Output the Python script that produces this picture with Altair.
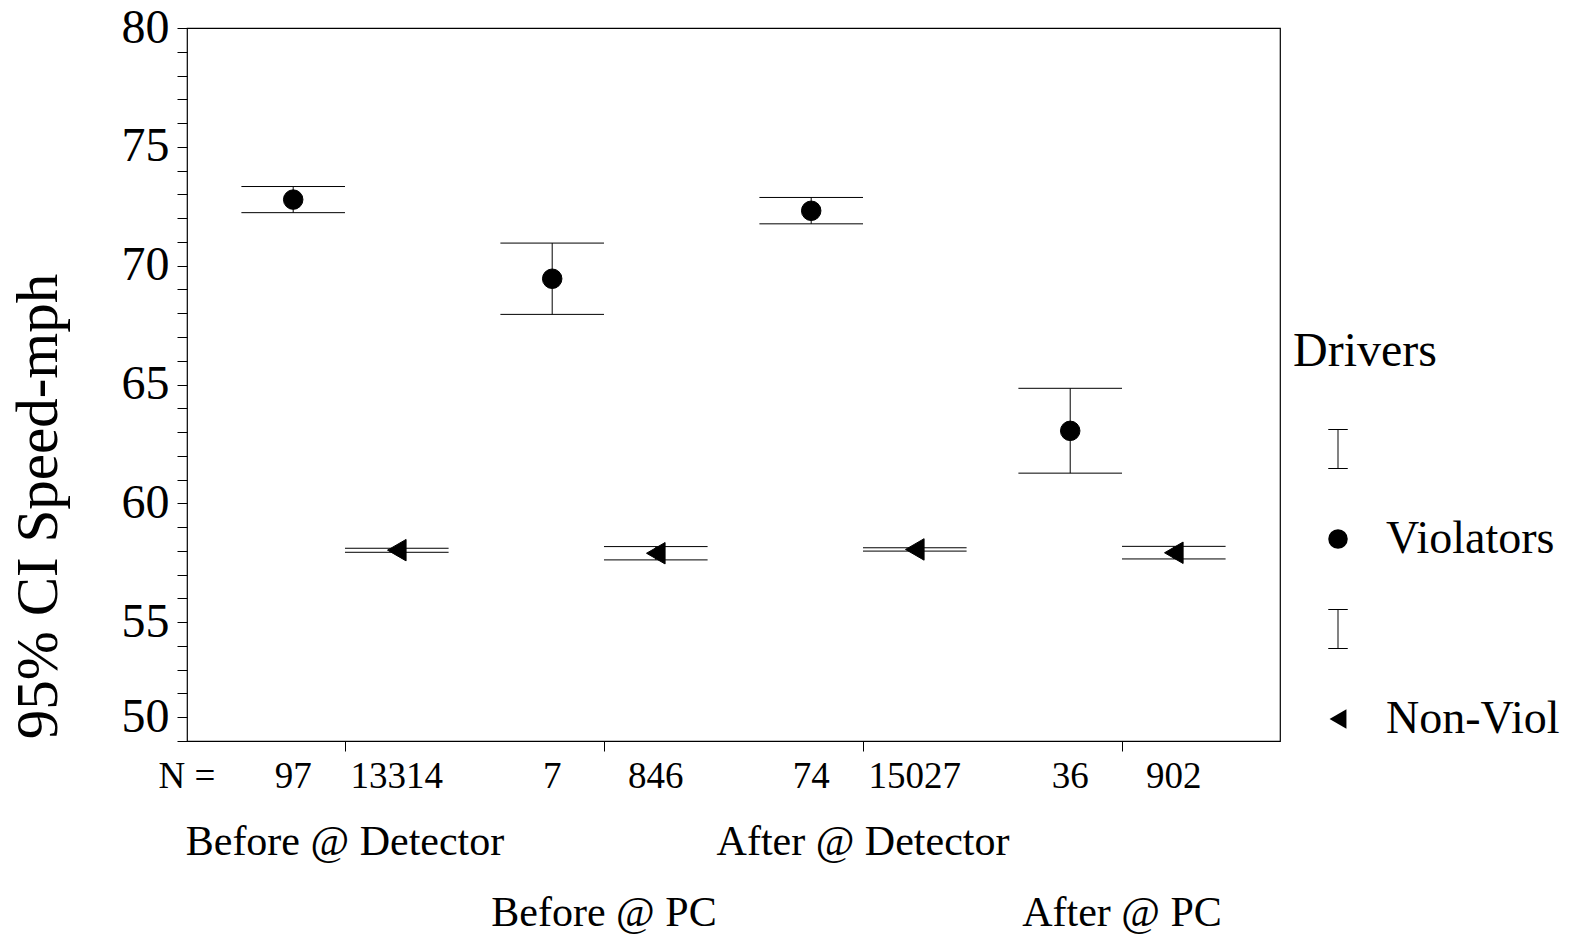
import altair as alt
import pandas as pd

groups = ["Before @ Detector", "Before @ PC", "After @ Detector", "After @ PC"]
viol_mean = [72.78, 69.45, 72.31, 63.05]
viol_low = [72.23, 67.95, 71.76, 61.27]
viol_high = [73.33, 70.95, 72.87, 64.84]
viol_n = ["97", "7", "74", "36"]
non_mean = [58.03, 57.90, 58.06, 57.92]
non_low = [57.94, 57.62, 57.99, 57.66]
non_high = [58.11, 58.18, 58.13, 58.19]
non_n = ["13314", "846", "15027", "902"]

rows = []
for i, g in enumerate(groups):
    rows.append(dict(group=g, gi=i + 1, Drivers="Violators", side=-1,
                     mean=viol_mean[i], low=viol_low[i], high=viol_high[i], n=viol_n[i]))
    rows.append(dict(group=g, gi=i + 1, Drivers="Non-Viol", side=1,
                     mean=non_mean[i], low=non_low[i], high=non_high[i], n=non_n[i]))
df = pd.DataFrame(rows)
gdf = pd.DataFrame({"group": groups, "gi": [1, 2, 3, 4]})

W, H = 1093, 713
FONT = "Liberation Serif"

xs = alt.Scale(domain=[0.39, 4.61], nice=False, zero=False)
ys = alt.Scale(domain=[50, 80], nice=False, zero=False)
xaxis = alt.Axis(values=[1, 2, 3, 4], labels=False, tickSize=10, tickColor="black",
                 tickWidth=1, domain=False, grid=False, title=None)
yaxis = alt.Axis(values=list(range(50, 81)),
                 labelExpr="datum.value == 51 ? '50' : ((datum.value % 5 == 0 && datum.value > 50) ? datum.label : '')",
                 labelOverlap=False, labelFlush=False, labelBound=False,
                 tickSize=10, tickColor="black", tickWidth=1,
                 labelFont=FONT, labelFontSize=48, labelColor="black", labelPadding=8,
                 domain=False, grid=False,
                 title="95% CI Speed-mph", titleFont=FONT, titleFontSize=59,
                 titleFontWeight="normal", titleColor="black", titleAngle=270,
                 titleX=-131, titleY=478, titleBaseline="alphabetic", titleAlign="center")


def X(f):
    return alt.X(f, type="quantitative", scale=xs, axis=xaxis)


def Y(f):
    return alt.Y(f, type="quantitative", scale=ys, axis=yaxis)


base = alt.Chart(df).transform_calculate(
    px="datum.gi + datum.side * 0.2",
    xl="datum.gi + datum.side * 0.2 - 0.2",
    xr="datum.gi + datum.side * 0.2 + 0.2",
)

stems = base.mark_rule(color="black", strokeWidth=1).encode(
    x=X("px"), y=Y("low"), y2="high:Q")
cap_lo = base.mark_rule(color="black", strokeWidth=1).encode(
    x=X("xl"), x2="xr:Q", y=Y("low"))
cap_hi = base.mark_rule(color="black", strokeWidth=1).encode(
    x=X("xl"), x2="xr:Q", y=Y("high"))

# filled I-beam outline (legend symbol for the CI bars)
ibeam = ("M-1,-2.06L1,-2.06L1,-1.96L0.05,-1.96L0.05,1.96L1,1.96L1,2.06"
         "L-1,2.06L-1,1.96L-0.05,1.96L-0.05,-1.96L-1,-1.96Z")
shape_enc = alt.Shape(
    "Drivers:N",
    scale=alt.Scale(domain=["ci1", "Violators", "ci2", "Non-Viol"],
                    range=[ibeam, "circle", ibeam, "triangle-left"]),
    legend=alt.Legend(
        title="Drivers", orient="none", legendX=1106, legendY=300,
        titleFont=FONT, titleFontSize=48, titleFontWeight="normal",
        titleColor="black", titlePadding=50,
        labelFont=FONT, labelFontSize=46, labelColor="black",
        labelLimit=400,
        labelExpr="(datum.label == 'ci1' || datum.label == 'ci2') ? '' : datum.label",
        symbolSize=380, symbolFillColor="black", symbolStrokeColor="black",
        symbolStrokeWidth=1, symbolOpacity=1, rowPadding=44, padding=0,
        symbolOffset=22, labelOffset=25))

pt_style = dict(filled=False, color="black", fill="black", stroke="black",
                strokeWidth=1, opacity=1, fillOpacity=1)
pts_v = base.transform_filter("datum.Drivers == 'Violators'").mark_point(
    size=380, **pt_style).encode(x=X("px"), y=Y("mean"), shape=shape_enc)
pts_n = base.transform_filter("datum.Drivers == 'Non-Viol'").mark_point(
    size=460, **pt_style).encode(x=X("px"), y=Y("mean"), shape=shape_enc)

nlab = base.mark_text(font=FONT, fontSize=37, color="black", baseline="middle",
                      align="center").encode(x=X("px"), y=alt.value(H + 36), text="n:N")
nhead = alt.Chart(pd.DataFrame({"t": ["N ="]})).mark_text(
    font=FONT, fontSize=37, color="black", baseline="middle", align="center").encode(
    x=alt.value(0), y=alt.value(H + 36), text="t:N")
g1 = alt.Chart(gdf).transform_filter("datum.gi % 2 == 1").mark_text(
    font=FONT, fontSize=42, color="black", baseline="middle", align="center").encode(
    x=X("gi"), y=alt.value(H + 101), text="group:N")
g2 = alt.Chart(gdf).transform_filter("datum.gi % 2 == 0").mark_text(
    font=FONT, fontSize=42, color="black", baseline="middle", align="center").encode(
    x=X("gi"), y=alt.value(H + 172), text="group:N")

chart = alt.layer(stems, cap_lo, cap_hi, pts_v, pts_n, nlab, nhead, g1, g2).properties(
    width=W, height=H,
    autosize=alt.AutoSizeParams(type="none"),
    padding={"left": 187, "top": 28, "right": 300, "bottom": 198},
    background="white",
).configure_view(stroke="black", strokeWidth=1.2)

chart.save("out.html", embed_options={"renderer": "svg", "actions": False})
